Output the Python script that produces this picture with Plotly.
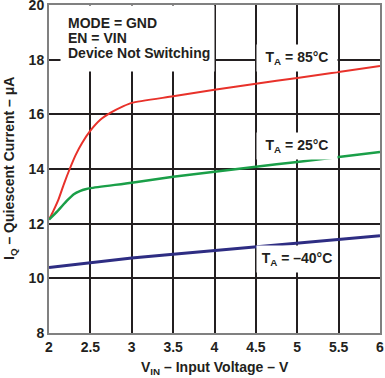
import plotly.graph_objects as go

# Data
v_85 = [2.0, 2.05, 2.11, 2.18, 2.25, 2.32, 2.4, 2.5, 2.62, 2.74, 2.9, 3.0, 3.5, 4.0, 4.5, 5.0, 5.5, 6.0]
iq_85 = [12.15, 12.45, 12.85, 13.45, 14.0, 14.5, 14.95, 15.4, 15.8, 16.05, 16.3, 16.42, 16.66, 16.9, 17.12, 17.33, 17.55, 17.77]

v_25 = [2.0, 2.1, 2.22, 2.3, 2.38, 2.44, 2.5, 3.0, 3.5, 4.0, 4.5, 5.0, 5.5, 6.0]
iq_25 = [12.15, 12.45, 12.85, 13.08, 13.2, 13.26, 13.3, 13.5, 13.72, 13.9, 14.08, 14.26, 14.44, 14.62]

v_m40 = [2.0, 2.5, 3.0, 3.5, 4.0, 4.5, 5.0, 5.5, 6.0]
iq_m40 = [10.4, 10.58, 10.74, 10.88, 11.02, 11.16, 11.29, 11.42, 11.56]

x_ticks = [2, 2.5, 3, 3.5, 4, 4.5, 5, 5.5, 6]
x_tick_labels = ["2", "2.5", "3", "3.5", "4", "4.5", "5", "5.5", "6"]
y_ticks = [8, 10, 12, 14, 16, 18, 20]
y_tick_labels = ["8", "10", "12", "14", "16", "18", "20"]

condition_lines = ["MODE = GND", "EN = VIN", "Device Not Switching"]
series_labels = ["T<sub>A</sub> = 85°C", "T<sub>A</sub> = 25°C", "T<sub>A</sub> = –40°C"]

font_family = "Liberation Sans"
ink = "#231f20"

fig = go.Figure()
fig.add_trace(go.Scatter(x=v_85, y=iq_85, mode="lines", line=dict(color="#e8312a", width=2, shape="spline", smoothing=0.6), showlegend=False, hoverinfo="skip"))
fig.add_trace(go.Scatter(x=v_25, y=iq_25, mode="lines", line=dict(color="#1a9f48", width=2.5, shape="spline", smoothing=0.6), showlegend=False, hoverinfo="skip"))
fig.add_trace(go.Scatter(x=v_m40, y=iq_m40, mode="lines", line=dict(color="#2e2d83", width=3), showlegend=False, hoverinfo="skip"))

ann_font = dict(family=font_family, size=14, color=ink)

# white box behind the conditions text
fig.add_annotation(x=2.133, y=20, xanchor="left", yanchor="top", text=" ", showarrow=False,
                   width=153, height=65, bgcolor="white", borderpad=0)
for txt, yv in zip(condition_lines, [19.34, 18.79, 18.24]):
    fig.add_annotation(x=2.205, y=yv, xanchor="left", yanchor="middle", text="<b>%s</b>" % txt,
                       showarrow=False, font=ann_font)

for txt, yv in zip(series_labels, [18.05, 14.83, 10.69]):
    fig.add_annotation(x=5.0, y=yv, text="<b>%s</b>" % txt, showarrow=False,
                       font=ann_font, bgcolor="white", width=80, height=26, borderpad=0)

# axis titles
fig.add_annotation(xref="paper", yref="paper", x=0.5, y=0, yshift=-35, yanchor="middle",
                   text="<b>V<sub>IN</sub> – Input Voltage – V</b>", showarrow=False, font=ann_font)
fig.add_annotation(xref="paper", yref="paper", x=0, y=0.5, xshift=-39, xanchor="center", yanchor="middle",
                   textangle=-90, text="<b>I<sub>Q</sub> – Quiescent Current – μA</b>", showarrow=False, font=ann_font)

axis_common = dict(showgrid=True, gridcolor=ink, gridwidth=1.5, showline=True, linecolor="#808080",
                   linewidth=2, mirror=True, ticks="", zeroline=False, automargin=False,
                   ticklabeloverflow="allow",
                   tickfont=dict(family=font_family, size=14, color=ink))
fig.update_xaxes(range=[2, 6], tickvals=x_ticks, ticktext=["<b>%s</b>" % t for t in x_tick_labels], **axis_common)
fig.update_yaxes(range=[8, 20], tickvals=y_ticks, ticktext=["<b>%s</b>" % t for t in y_tick_labels], **axis_common)

fig.update_layout(width=385, height=378, margin=dict(l=49, r=5, t=5, b=45),
                  plot_bgcolor="white", paper_bgcolor="white")

fig.write_html("out.html", config={"displayModeBar": False},
               post_script="document.body.style.margin='0';document.body.style.overflow='hidden';")
